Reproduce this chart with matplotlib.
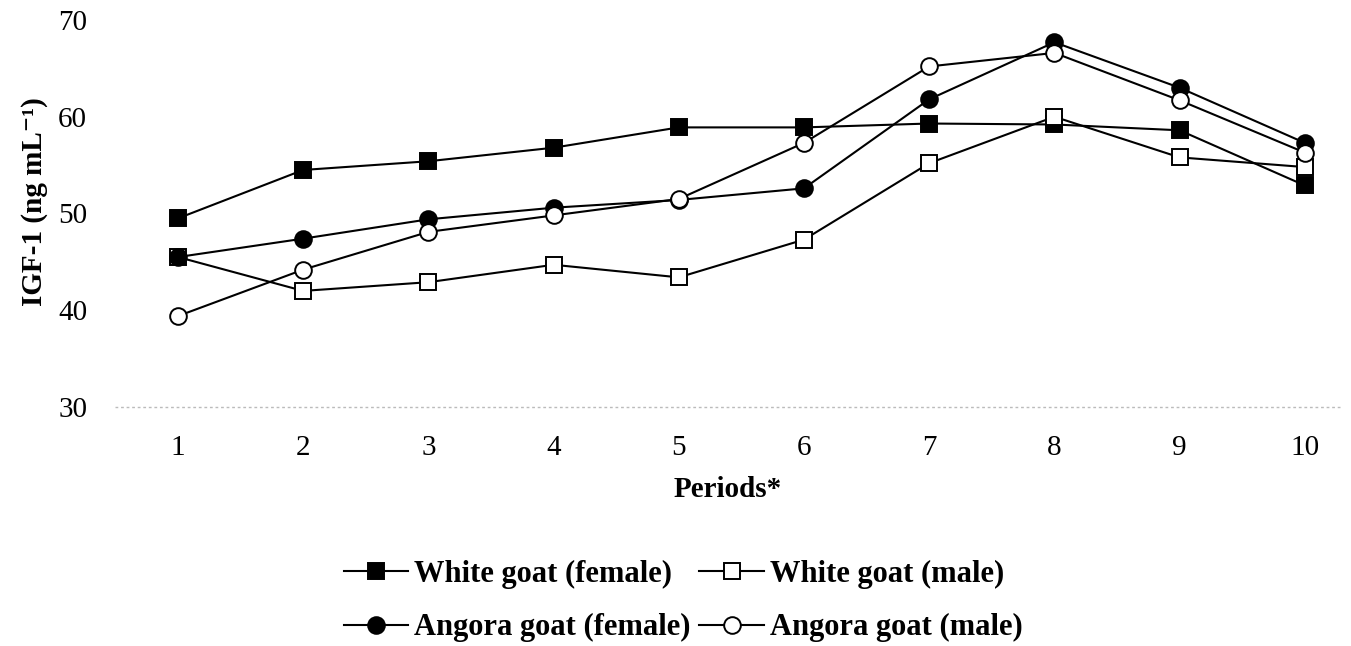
import matplotlib.pyplot as plt
import numpy as np

periods = np.arange(1, 11)
white_female = [49.5, 54.5, 55.4, 56.8, 58.9, 58.9, 59.3, 59.2, 58.6, 52.9]
white_male = [45.5, 42.0, 42.9, 44.7, 43.4, 47.3, 55.2, 60.0, 55.8, 54.8]
angora_female = [45.5, 47.4, 49.4, 50.6, 51.4, 52.6, 61.8, 67.7, 63.0, 57.3]
angora_male = [39.4, 44.2, 48.1, 49.8, 51.5, 57.3, 65.2, 66.6, 61.7, 56.3]

plt.rcParams['font.family'] = ['Liberation Serif', 'DejaVu Serif']

fig = plt.figure(figsize=(13.51, 6.46), dpi=100)
ax = fig.add_axes([115 / 1351, 1 - 407 / 646, (1340 - 115) / 1351, 387 / 646])

style = dict(color='black', lw=1.5, markersize=12, markeredgewidth=1.4)
h1, = ax.plot(periods, white_female, marker='s', mfc='black', label='White goat (female)', **style)
h2, = ax.plot(periods, white_male, marker='s', mfc='white', label='White goat (male)', **style)
h3, = ax.plot(periods, angora_female, marker='o', mfc='black', label='Angora goat (female)', **style)
h4, = ax.plot(periods, angora_male, marker='o', mfc='white', label='Angora goat (male)', **style)

ax.set_ylim(30, 70)
ax.set_xlim(1 + (115 - 178) / 125.2, 1 + (1340 - 178) / 125.2)
ax.set_yticks([30, 40, 50, 60, 70])
ax.set_xticks(periods)
ax.tick_params(length=0, labelsize=21)
ax.tick_params(axis='x', pad=20)
ax.tick_params(axis='y', pad=20)
for s in ax.spines.values():
    s.set_visible(False)
ax.axhline(30, color='#bbbbbb', lw=1, ls=(0, (2, 2)), clip_on=False)

ax.set_ylabel('IGF-1 (ng mL⁻¹)', fontsize=21, fontweight='bold')
ax.yaxis.set_label_coords(-0.055, 0.53)
ax.set_xlabel('Periods*', fontsize=21, fontweight='bold', labelpad=11)

fig.legend([h1, h3, h2, h4], [h.get_label() for h in (h1, h3, h2, h4)],
           loc='center', bbox_to_anchor=(683 / 1351, 1 - 601 / 646), ncol=2,
           frameon=False, prop=dict(size=22, weight='bold'), handlelength=2.1,
           handletextpad=0.2, columnspacing=0.3, labelspacing=0.8)

fig.savefig('out.png', dpi=100)
